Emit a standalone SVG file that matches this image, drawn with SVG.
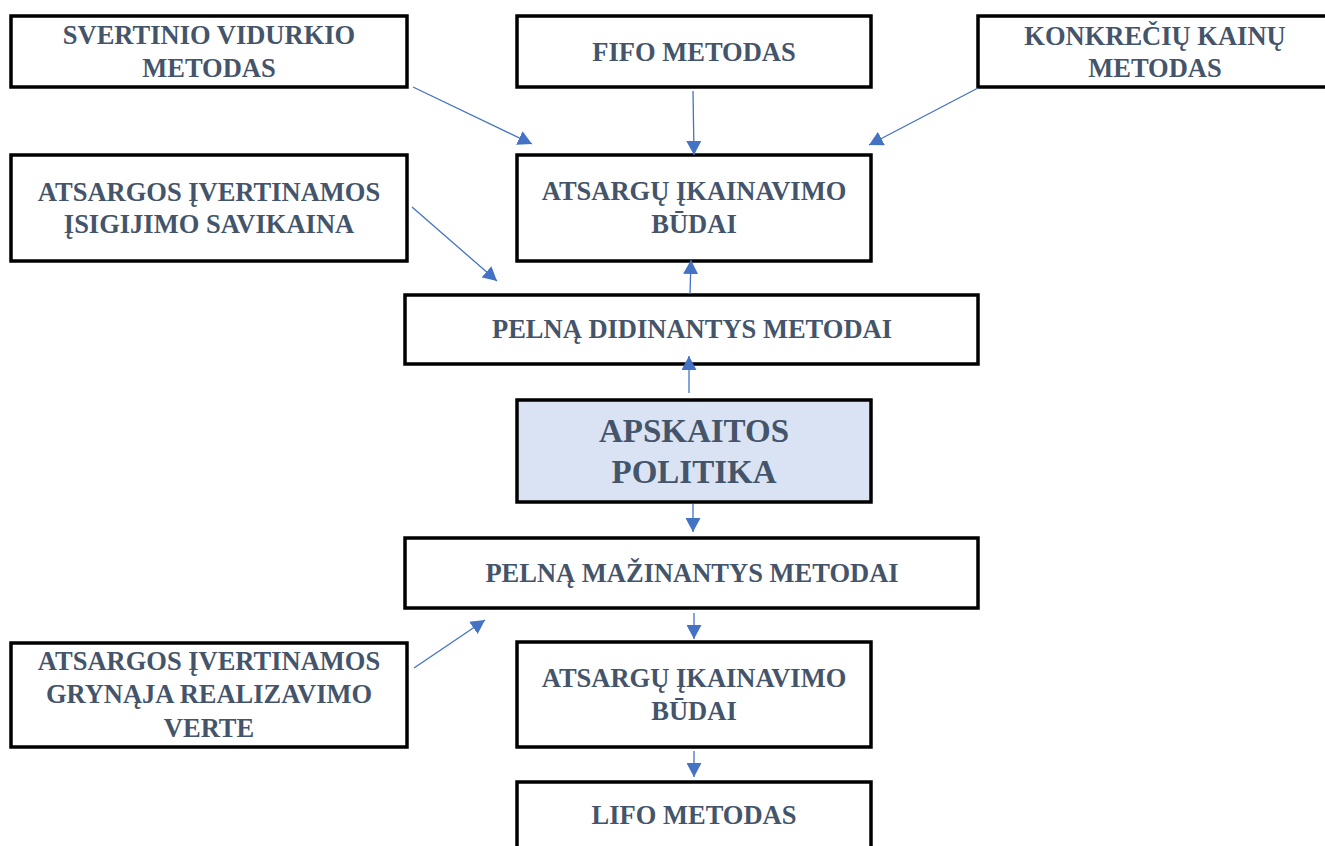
<svg xmlns="http://www.w3.org/2000/svg" width="1325" height="846" viewBox="0 0 1325 846">
<style>
.box{fill:#ffffff;stroke:#000000;stroke-width:3.5}
.main{fill:#dae3f3;stroke:#000000;stroke-width:3.5}
.t{font-family:"Liberation Serif","Times New Roman",serif;font-weight:bold;font-size:26.5px;fill:#44546a;text-anchor:middle}
.tb{font-size:33px}
.c{stroke:#4472c4;stroke-width:1.3;fill:none;marker-end:url(#ah)}
</style>
<defs>
<marker id="ah" markerUnits="userSpaceOnUse" markerWidth="15" markerHeight="15" refX="14" refY="7.5" orient="auto" viewBox="0 0 15 15">
<path d="M0,0 L14,7.5 L0,15 z" fill="#4472c4"/>
</marker>
</defs>
<rect width="1325" height="846" fill="#ffffff"/>
<g id="n-svertinio">
<rect class="box" x="11" y="16" width="396" height="71"/>
<text class="t" x="209" y="44">SVERTINIO VIDURKIO</text>
<text class="t" x="209" y="77">METODAS</text>
</g>
<g id="n-fifo">
<rect class="box" x="517" y="16" width="354" height="71"/>
<text class="t" x="694" y="61">FIFO METODAS</text>
</g>
<g id="n-konkreciu">
<rect class="box" x="978" y="16" width="354" height="71"/>
<text class="t" x="1155" y="45">KONKREČIŲ KAINŲ</text>
<text class="t" x="1155" y="77">METODAS</text>
</g>
<g id="n-isigijimo">
<rect class="box" x="11" y="155" width="396" height="106"/>
<text class="t" x="209" y="201">ATSARGOS ĮVERTINAMOS</text>
<text class="t" x="209" y="233">ĮSIGIJIMO SAVIKAINA</text>
</g>
<g id="n-budai-top">
<rect class="box" x="517" y="155" width="354" height="106"/>
<text class="t" x="694" y="200">ATSARGŲ ĮKAINAVIMO</text>
<text class="t" x="694" y="233">BŪDAI</text>
</g>
<g id="n-didinantys">
<rect class="box" x="405" y="295" width="573" height="69"/>
<text class="t" x="692" y="338">PELNĄ DIDINANTYS METODAI</text>
</g>
<g id="n-apskaitos">
<rect class="main" x="517" y="400" width="354" height="102"/>
<text class="t tb" x="694" y="442">APSKAITOS</text>
<text class="t tb" x="694" y="483">POLITIKA</text>
</g>
<g id="n-mazinantys">
<rect class="box" x="405" y="538" width="573" height="70"/>
<text class="t" x="692" y="582">PELNĄ MAŽINANTYS METODAI</text>
</g>
<g id="n-grynaja">
<rect class="box" x="11" y="643" width="396" height="104"/>
<text class="t" x="209" y="670">ATSARGOS ĮVERTINAMOS</text>
<text class="t" x="209" y="703">GRYNĄJA REALIZAVIMO</text>
<text class="t" x="209" y="737">VERTE</text>
</g>
<g id="n-budai-bottom">
<rect class="box" x="517" y="642" width="354" height="105"/>
<text class="t" x="694" y="687">ATSARGŲ ĮKAINAVIMO</text>
<text class="t" x="694" y="720">BŪDAI</text>
</g>
<g id="n-lifo">
<rect class="box" x="517" y="782" width="354" height="80"/>
<text class="t" x="694" y="824">LIFO METODAS</text>
</g>
<g id="connectors">
<line class="c" x1="413" y1="87" x2="532" y2="144"/>
<line class="c" x1="693" y1="91" x2="694" y2="155"/>
<line class="c" x1="978" y1="88" x2="869" y2="145"/>
<line class="c" x1="412" y1="207" x2="497" y2="281"/>
<line class="c" x1="690" y1="294" x2="691" y2="260"/>
<line class="c" x1="689" y1="393" x2="689" y2="356"/>
<line class="c" x1="693" y1="504" x2="693" y2="532"/>
<line class="c" x1="414" y1="668" x2="485" y2="620"/>
<line class="c" x1="694" y1="613" x2="694" y2="639"/>
<line class="c" x1="694" y1="751" x2="694" y2="777"/>
</g>
</svg>
